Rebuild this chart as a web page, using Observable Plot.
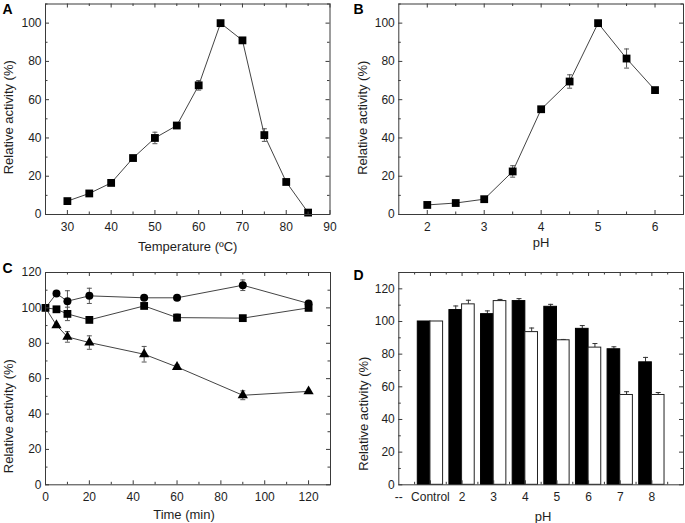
<!DOCTYPE html>
<html><head><meta charset="utf-8">
<script src="https://cdn.jsdelivr.net/npm/d3@7"></script>
<script src="https://cdn.jsdelivr.net/npm/@observablehq/plot@0.6"></script>
<style>
body{margin:0;background:#fff;}
#fig{position:relative;width:685px;height:523px;overflow:hidden;background:#fff;}
#fig > svg, #fig > figure{position:absolute;margin:0;}
</style></head><body><div id="fig"></div>
<script>
// ---- Panel A: temperature profile ----
const tempC = [30,35,40,45,50,55,60,65,70,75,80,85];
const tempActivity = [7,11,16.5,29.5,40,46.5,67.5,100,91,41.5,17,1];
const tempError = [0.6,0.6,0.6,0.8,3,1,2.5,0.4,1.4,3.3,0.6,0.4];
const tempTicks = [30,40,50,60,70,80,90];

// ---- Panel B: pH profile ----
const phValues = [2,2.5,3,3.5,4,4.5,5,5.5,6];
const phActivity = [5,6,8,22.5,55,69.5,100,81.5,65];
const phError = [0.5,0.5,0.8,3,1,3.5,0.4,5,1];
const phTicks = [2,3,4,5,6];

// ---- Panel C: thermostability over time ----
const timeMin = [0,5,10,20,45,60,90,120];
const circleActivity = [100,108.1,103.8,106.8,105.7,105.7,112.8,102.5];
const circleError = [0,0.5,5.9,4.3,0.8,0.8,3,0.8];
const squareActivity = [100,99.2,96.6,93.2,101.1,94.5,94.2,100];
const squareError = [0,0.5,3.8,0.8,0.8,2,0.6,0.6];
const triangleActivity = [100,90.2,83.6,80.4,73.8,66.6,50.6,52.8];
const triangleError = [0,0.8,3,3.8,4.4,1.2,2.5,0.6];
const timeTicks = [0,20,40,60,80,100,120];

// ---- Panel D: pH stability bars ----
const pHGroupLabels = ["--","Control","2","3","4","5","6","7","8"];
const blackBarActivity = [null,100,107,104.5,112.5,109,95.5,83,75];
const blackBarError = [null,0,2.5,2,1.5,1.5,2,1.5,3];
const whiteBarActivity = [null,100,110.5,112.5,93.5,88.5,84,55,55];
const whiteBarError = [null,0,2.5,1,2.5,0.5,2.5,2,1.5];

const activityTicks100 = [0,20,40,60,80,100];
const activityTicks120 = [0,20,40,60,80,100,120];

const FONT = "'Liberation Sans', Arial, Helvetica, sans-serif";
const INK = "#1e1e1e";
const FRAME = "#3a3a3a";
const LINE = "#444";
const capSymbol = {draw(ctx, size){ const w = Math.sqrt(size)/2; ctx.moveTo(-w,0); ctx.lineTo(w,0); }};

function range(a,b,s){ const out=[]; for(let v=a; v<=b+1e-9; v+=s) out.push(+v.toFixed(6)); return out; }

function innerTicks(o){
  const pw = o.width - o.ml - o.mr, ph = o.height - o.mt - o.mb;
  const MAJ = 4, MIN = 2.5;
  const st = {stroke: FRAME, strokeWidth: 1};
  return [
    Plot.tickX(o.xMajor, {x: d=>d, insetTop: ph-MAJ, ...st}),
    Plot.tickX(o.xMinor, {x: d=>d, insetTop: ph-MIN, ...st}),
    Plot.tickX(o.xMajor, {x: d=>d, insetBottom: ph-MAJ, ...st}),
    Plot.tickX(o.xMinor, {x: d=>d, insetBottom: ph-MIN, ...st}),
    Plot.tickY(o.yMajor, {y: d=>d, insetRight: pw-MAJ, ...st}),
    Plot.tickY(o.yMinor, {y: d=>d, insetRight: pw-MIN, ...st}),
    Plot.tickY(o.yMajor, {y: d=>d, insetLeft: pw-MAJ, ...st}),
    Plot.tickY(o.yMinor, {y: d=>d, insetLeft: pw-MIN, ...st})
  ];
}

function panel(o){
  const chart = Plot.plot({
    width: o.width, height: o.height,
    marginLeft: o.ml, marginRight: o.mr, marginTop: o.mt, marginBottom: o.mb,
    style: {fontFamily: FONT, fontSize: "12px", color: INK, background: "white", overflow: "visible"},
    x: {type: "linear", domain: o.xDomain, ticks: o.xTicks, tickSize: 0, tickPadding: 8, label: null, tickFormat: o.xTickFormat || (d=>String(d))},
    y: {type: "linear", domain: o.yDomain, ticks: o.yTicks, tickSize: 0, tickPadding: 4, label: null, tickFormat: d=>String(d)},
    marks: [
      ...o.marks,
      ...innerTicks(o),
      Plot.frame({stroke: FRAME, strokeWidth: 1}),
      Plot.text([o.xTitle], {text: d=>d, frameAnchor: "bottom", dx: o.xTitleDx, dy: o.xTitleDy, textAnchor: "middle", lineAnchor: "bottom", fontSize: 13, fill: INK}),
      Plot.text(["Relative activity (%)"], {text: d=>d, frameAnchor: "left", dx: o.yTitleDx, dy: o.yTitleDy, rotate: -90, textAnchor: "middle", lineAnchor: "middle", fontSize: 13, fill: INK}),
      Plot.text([o.letter], {text: d=>d, frameAnchor: "top-left", dx: o.letterDx, dy: o.letterDy, textAnchor: "start", lineAnchor: "bottom", fontSize: 14, fontWeight: "bold", fill: "#000"})
    ]
  });
  chart.style.left = o.left + "px";
  chart.style.top = o.top + "px";
  document.getElementById("fig").appendChild(chart);
}

function errMarks(data, x, y, e, cap){
  const d = data.filter(r => r[e] > 0);
  return [
    Plot.ruleX(d, {x, y1: r => r[y]-r[e], y2: r => r[y]+r[e], stroke: "#555", strokeWidth: 1}),
    Plot.dot(d, {x, y: r => r[y]+r[e], symbol: capSymbol, r: cap, stroke: "#555", strokeWidth: 1, fill: "none"}),
    Plot.dot(d, {x, y: r => r[y]-r[e], symbol: capSymbol, r: cap, stroke: "#555", strokeWidth: 1, fill: "none"})
  ];
}

// Panel A
const dataA = tempC.map((t,i)=>({t, v: tempActivity[i], e: tempError[i]}));
panel({
  left: 0, top: 0, width: 340, height: 255, ml: 45, mr: 10.5, mt: 3.5, mb: 41,
  xDomain: [25, 90], yDomain: [0, 110], xTicks: tempTicks, yTicks: activityTicks100,
  xMajor: tempTicks, xMinor: range(35, 85, 10), yMajor: activityTicks100, yMinor: range(10, 110, 20),
  xTitle: "Temperature (ºC)", xTitleDx: 0, xTitleDy: 36.5, yTitleDx: -36.25, yTitleDy: 8,
  letter: "A", letterDx: -43, letterDy: 10,
  marks: [
    Plot.line(dataA, {x: "t", y: "v", stroke: LINE, strokeWidth: 1}),
    ...errMarks(dataA, "t", "v", "e", 2.8),
    Plot.dot(dataA, {x: "t", y: "v", symbol: "square", r: 4.4, fill: "#000", stroke: "none"})
  ]
});

// Panel B
const dataB = phValues.map((p,i)=>({p, v: phActivity[i], e: phError[i]}));
panel({
  left: 340, top: 0, width: 345, height: 255, ml: 58.3, mr: 2, mt: 3.5, mb: 41,
  xDomain: [1.5, 6.5], yDomain: [0, 110], xTicks: phTicks, yTicks: activityTicks100,
  xMajor: phTicks, xMinor: range(2.5, 6, 1), yMajor: activityTicks100, yMinor: range(10, 110, 20),
  xTitle: "pH", xTitleDx: 0, xTitleDy: 32, yTitleDx: -35.5, yTitleDy: 8.5,
  letter: "B", letterDx: -45.3, letterDy: 9.5,
  marks: [
    Plot.line(dataB, {x: "p", y: "v", stroke: LINE, strokeWidth: 1}),
    ...errMarks(dataB, "p", "v", "e", 2.8),
    Plot.dot(dataB, {x: "p", y: "v", symbol: "square", r: 4.4, fill: "#000", stroke: "none"})
  ]
});

// Panel C
const dataCc = timeMin.map((t,i)=>({t, v: circleActivity[i], e: circleError[i]}));
const dataCs = timeMin.map((t,i)=>({t, v: squareActivity[i], e: squareError[i]}));
const dataCt = timeMin.map((t,i)=>({t, v: triangleActivity[i], e: triangleError[i]}));
panel({
  left: 0, top: 255, width: 340, height: 268, ml: 45, mr: 10, mt: 17, mb: 38.7,
  xDomain: [0, 130], yDomain: [0, 120], xTicks: timeTicks, yTicks: activityTicks120,
  xMajor: timeTicks, xMinor: range(10, 130, 20), yMajor: activityTicks120, yMinor: range(10, 110, 20),
  xTitle: "Time (min)", xTitleDx: -4, xTitleDy: 34, yTitleDx: -36.25, yTitleDy: 37.5,
  letter: "C", letterDx: -43, letterDy: 0,
  marks: [
    Plot.line(dataCc, {x: "t", y: "v", stroke: LINE, strokeWidth: 1}),
    Plot.line(dataCs, {x: "t", y: "v", stroke: LINE, strokeWidth: 1}),
    Plot.line(dataCt, {x: "t", y: "v", stroke: LINE, strokeWidth: 1}),
    ...errMarks(dataCc, "t", "v", "e", 2.8),
    ...errMarks(dataCs, "t", "v", "e", 2.8),
    ...errMarks(dataCt, "t", "v", "e", 2.8),
    Plot.dot(dataCt.slice(1), {x: "t", y: "v", symbol: "triangle", r: 3.8, fill: "#000", stroke: "none"}),
    Plot.dot(dataCc.slice(1), {x: "t", y: "v", symbol: "circle", r: 4, fill: "#000", stroke: "none"}),
    Plot.dot(dataCs, {x: "t", y: "v", symbol: "square", r: 4.4, fill: "#000", stroke: "none"})
  ]
});

// Panel D
const idx = pHGroupLabels.map((_,i)=>i);
const dataDb = idx.filter(i=>blackBarActivity[i]!=null).map(i=>({i, x1: i-0.4, x2: i, xc: i-0.2, v: blackBarActivity[i], e: blackBarError[i]}));
const dataDw = idx.filter(i=>whiteBarActivity[i]!=null).map(i=>({i, x1: i, x2: i+0.4, xc: i+0.2, v: whiteBarActivity[i], e: whiteBarError[i]}));
function upperErr(d){
  const f = d.filter(r=>r.e>0);
  return [
    Plot.ruleX(f, {x: "xc", y1: "v", y2: r=>r.v+r.e, stroke: "#333", strokeWidth: 1}),
    Plot.dot(f, {x: "xc", y: r=>r.v+r.e, symbol: capSymbol, r: 2.8, stroke: "#333", strokeWidth: 1, fill: "none"})
  ];
}
panel({
  left: 340, top: 255, width: 345, height: 268, ml: 58.3, mr: 2, mt: 17, mb: 38.7,
  xDomain: [0, 9], yDomain: [0, 130], xTicks: idx, yTicks: activityTicks120,
  xTickFormat: i => pHGroupLabels[i] ?? "",
  xMajor: idx.slice(1), xMinor: range(0.5, 8.5, 1), yMajor: activityTicks120, yMinor: range(10, 130, 20),
  xTitle: "pH", xTitleDx: 2, xTitleDy: 35.7, yTitleDx: -34.5, yTitleDy: 35,
  letter: "D", letterDx: -45.3, letterDy: 7,
  marks: [
    ...upperErr(dataDb),
    ...upperErr(dataDw),
    Plot.rectY(dataDb, {x1: "x1", x2: "x2", y1: 0, y2: "v", fill: "#000", stroke: "#000", strokeWidth: 1}),
    Plot.rectY(dataDw, {x1: "x1", x2: "x2", y1: 0, y2: "v", fill: "#fff", stroke: "#222", strokeWidth: 1})
  ]
});
</script></body></html>
